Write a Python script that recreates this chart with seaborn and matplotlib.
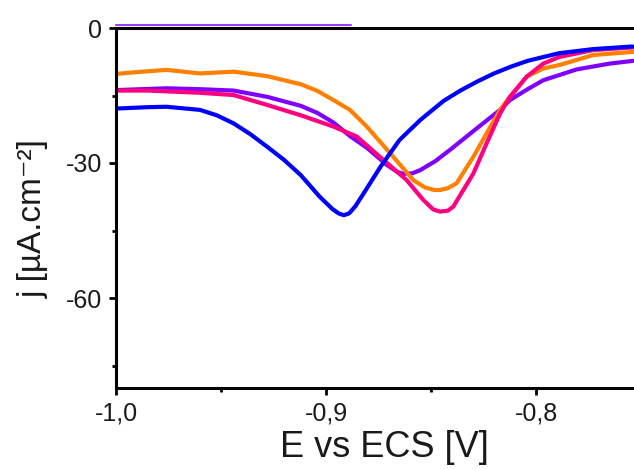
import matplotlib
matplotlib.use("Agg")
import matplotlib.pyplot as plt
import seaborn as sns
import pandas as pd
from matplotlib.ticker import MultipleLocator

# ---- data ----
E_purple = [-1.000, -0.976, -0.960, -0.944, -0.928, -0.912, -0.904, -0.8965, -0.8886, -0.8806, -0.8711,
            -0.866, -0.8632, -0.859, -0.8552, -0.848, -0.841, -0.8282, -0.8171, -0.8124, -0.804, -0.7965,
            -0.7806, -0.7648, -0.7537]
j_purple = [-13.8, -13.4, -13.6, -13.9, -15.3, -17.3, -18.9, -21.0, -24.0, -26.6, -30.4,
            -32.0, -32.4, -32.3, -31.6, -29.6, -27.1, -22.3, -18.2, -16.0, -13.6, -11.6,
            -9.2, -7.9, -7.3]

E_orange = [-1.000, -0.990, -0.976, -0.960, -0.944, -0.928, -0.912, -0.904, -0.8965, -0.8886, -0.8806,
            -0.8695, -0.8584, -0.853, -0.8485, -0.8457, -0.842, -0.8378, -0.8298, -0.8235, -0.8171,
            -0.8124, -0.8044, -0.7965, -0.7886, -0.7727, -0.7537]
j_orange = [-10.2, -9.8, -9.3, -10.1, -9.7, -10.7, -12.5, -14.0, -16.0, -18.2, -21.9,
            -27.8, -33.8, -35.4, -36.0, -36.0, -35.6, -34.5, -28.6, -23.4, -18.2,
            -15.3, -10.8, -9.0, -8.2, -6.0, -5.3]

E_pink = [-1.000, -0.985, -0.960, -0.944, -0.928, -0.912, -0.8965, -0.8854, -0.8727, -0.8616,
          -0.8537, -0.849, -0.8457, -0.842, -0.8394, -0.8298, -0.8235, -0.8171, -0.8124, -0.8044,
          -0.7965, -0.7886, -0.7727, -0.7537]
j_pink = [-13.9, -13.9, -14.4, -14.9, -17.1, -19.4, -21.9, -24.1, -29.3, -33.8,
          -38.2, -40.3, -40.8, -40.6, -39.7, -32.3, -25.6, -19.0, -15.3, -10.8,
          -7.9, -6.4, -4.9, -4.3]

E_blue = [-1.000, -0.985, -0.976, -0.960, -0.952, -0.944, -0.936, -0.928, -0.920, -0.912, -0.903,
          -0.897, -0.894, -0.8915, -0.889, -0.886, -0.882, -0.874, -0.865, -0.855, -0.844, -0.836,
          -0.828, -0.820, -0.812, -0.804, -0.789, -0.773, -0.754]
j_blue = [-17.9, -17.6, -17.5, -18.2, -19.4, -21.2, -23.6, -26.4, -29.3, -32.7, -37.5,
          -40.2, -41.2, -41.6, -41.2, -39.6, -36.7, -30.8, -24.9, -20.4, -16.2, -13.9,
          -11.9, -10.1, -8.6, -7.3, -5.6, -4.7, -4.1]

E_top = [-1.000, -0.888]
j_top = [0.6, 0.6]

series_names = ["purple", "orange", "pink", "blue"]
colors = {"purple": "#8000ff", "orange": "#ff8000", "pink": "#ff0080", "blue": "#0000ff"}

x_ticks = [-1.0, -0.9, -0.8]
x_labels = ["-1,0", "-0,9", "-0,8"]
y_ticks = [0, -30, -60]
y_labels = ["0", "-30", "-60"]

frames = []
for name, E, j in [("purple", E_purple, j_purple), ("orange", E_orange, j_orange),
                   ("pink", E_pink, j_pink), ("blue", E_blue, j_blue)]:
    frames.append(pd.DataFrame({"E": E, "j": j, "series": name}))
df = pd.concat(frames, ignore_index=True)

sns.set_style("ticks")
plt.rcParams["font.family"] = ["Liberation Sans", "DejaVu Sans"]

fig = plt.figure(figsize=(6.34, 4.70), dpi=100)
ax = fig.add_axes([116 / 634, 1 - 388 / 470, (641 - 116) / 634, 360 / 470])

txt = "#1a1a1a"

ax.plot(E_top, j_top, color="#8a2cff", lw=1.5, alpha=0.9, clip_on=False, zorder=1)

sns.lineplot(data=df, x="E", y="j", hue="series", hue_order=series_names,
             palette=colors, estimator=None, sort=False, lw=3.0, legend=False, ax=ax)
for ln in ax.lines:
    ln.set_solid_joinstyle("round")
    ln.set_solid_capstyle("round")

ax.set_xlim(-1.0, -0.75)
ax.set_ylim(-80, 0)

ax.set_xticks(x_ticks)
ax.set_xticklabels(x_labels)
ax.set_yticks(y_ticks)
ax.set_yticklabels(y_labels)
ax.xaxis.set_minor_locator(MultipleLocator(0.05))
ax.yaxis.set_minor_locator(MultipleLocator(15))

for s in ax.spines.values():
    s.set_linewidth(2.2)
    s.set_color("black")

ax.tick_params(axis="both", which="major", direction="out", length=5, width=2,
               labelsize=18, colors="black", labelcolor=txt, pad=5)
ax.tick_params(axis="both", which="minor", direction="out", length=3, width=2, colors="black")

ax.set_xlabel("E vs ECS [V]", fontsize=26, color=txt)
ax.xaxis.set_label_coords(0.512, -0.117)
ax.set_ylabel("j [µA.cm⁻²]", fontsize=24, color=txt)
ax.yaxis.set_label_coords(-0.128, 0.47)

fig.savefig("out.png", dpi=100)
